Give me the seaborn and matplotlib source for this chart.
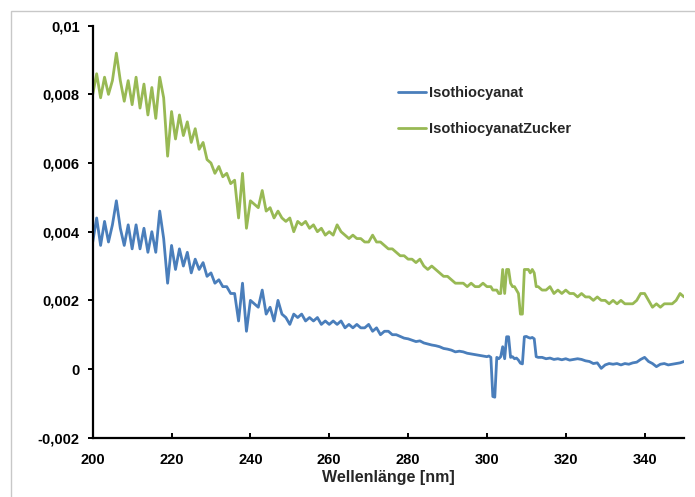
import matplotlib

matplotlib.use("Agg")
import matplotlib.pyplot as plt
from matplotlib.patches import Rectangle
from matplotlib.ticker import FuncFormatter, MultipleLocator
import numpy as np
import pandas as pd
import seaborn as sns

# Sampling grid of the spectrum (finer around the lamp-switch artefact near 300-313 nm)
wavelength = np.concatenate(
    [np.arange(200, 300, 1.0), np.arange(300, 313.5, 0.5), np.arange(314, 351, 1.0)]
)

isothiocyanat = [
    # 200-299
    0.0037, 0.0044, 0.0036, 0.0043, 0.0037, 0.0042, 0.0049, 0.0041, 0.0036, 0.0042,
    0.0035, 0.0042, 0.0035, 0.0041, 0.0034, 0.0040, 0.0034, 0.0046, 0.0038, 0.0025,
    0.0036, 0.0029, 0.0035, 0.0030, 0.0034, 0.0028, 0.0032, 0.0029, 0.0031, 0.0027,
    0.0028, 0.0025, 0.0026, 0.0024, 0.0024, 0.0022, 0.0022, 0.0014, 0.0025, 0.0011,
    0.0020, 0.0019, 0.0018, 0.0023, 0.0016, 0.0018, 0.0014, 0.0020, 0.0016, 0.0015,
    0.0013, 0.0016, 0.0015, 0.0016, 0.0014, 0.0015, 0.0014, 0.0015, 0.0013, 0.0014,
    0.0013, 0.0014, 0.0013, 0.0014, 0.0012, 0.0013, 0.0012, 0.0013, 0.0012, 0.0012,
    0.0013, 0.0011, 0.0012, 0.0010, 0.0011, 0.0011, 0.0010, 0.0010, 0.00095, 0.0009,
    0.00088, 0.00084, 0.0008, 0.00082, 0.00076, 0.00073, 0.0007, 0.00068, 0.00065, 0.0006,
    0.00058, 0.00055, 0.0005, 0.00052, 0.0005, 0.00046, 0.00044, 0.00042, 0.0004, 0.00038,
    # 300-313 in 0.5 steps
    0.00036, 0.00038, 0.00034, -0.0008, -0.00082, 0.00034, 0.00030, 0.00036, 0.00065,
    0.00030, 0.00094, 0.00094, 0.00034, 0.00036, 0.00030, 0.00032, 0.00026, 0.00017,
    0.00015, 0.00094, 0.00095, 0.00092, 0.00090, 0.00092, 0.00088, 0.00036, 0.00034,
    # 314-350
    0.00034, 0.00030, 0.00032, 0.00028, 0.00030, 0.00027, 0.00030, 0.00026, 0.00028, 0.00030,
    0.00028, 0.00024, 0.00022, 0.00016, 0.00018, 0.00002, 0.00012, 0.00016, 0.00014, 0.00016,
    0.00012, 0.00016, 0.00014, 0.00018, 0.00020, 0.00028, 0.00034, 0.00022, 0.00016, 0.00007,
    0.00014, 0.00016, 0.00012, 0.00014, 0.00016, 0.00018, 0.00022,
]

isothiocyanat_zucker = [
    # 200-299
    0.0080, 0.0086, 0.0079, 0.0085, 0.0080, 0.0084, 0.0092, 0.0084, 0.0078, 0.0084,
    0.0077, 0.0085, 0.0076, 0.0083, 0.0074, 0.0082, 0.0073, 0.0085, 0.0079, 0.0062,
    0.0075, 0.0067, 0.0074, 0.0068, 0.0072, 0.0066, 0.0070, 0.0064, 0.0066, 0.0061,
    0.0060, 0.0057, 0.0059, 0.0056, 0.0057, 0.0054, 0.0055, 0.0044, 0.0057, 0.0041,
    0.0049, 0.0048, 0.0047, 0.0052, 0.0046, 0.0047, 0.0044, 0.0046, 0.0044, 0.0043,
    0.0044, 0.0040, 0.0043, 0.0042, 0.0043, 0.0041, 0.0042, 0.0040, 0.0041, 0.0039,
    0.0040, 0.0039, 0.0042, 0.0040, 0.0039, 0.0038, 0.0039, 0.0038, 0.0038, 0.0037,
    0.0037, 0.0039, 0.0037, 0.0037, 0.0036, 0.0035, 0.0035, 0.0034, 0.0033, 0.0033,
    0.0032, 0.0032, 0.0031, 0.0032, 0.0030, 0.0029, 0.0030, 0.0029, 0.0028, 0.0027,
    0.0027, 0.0026, 0.0025, 0.0025, 0.0025, 0.0024, 0.0025, 0.0024, 0.0024, 0.0025,
    # 300-313 in 0.5 steps
    0.0024, 0.0024, 0.0024, 0.0023, 0.0023, 0.0023, 0.0022, 0.0022, 0.0029,
    0.0022, 0.0029, 0.0029, 0.0025, 0.0024, 0.0024, 0.0023, 0.0022, 0.0016,
    0.0016, 0.0029, 0.0029, 0.0029, 0.0028, 0.0029, 0.0028, 0.0024, 0.0024,
    # 314-350
    0.0023, 0.0023, 0.0024, 0.0022, 0.0023, 0.0022, 0.0023, 0.0022, 0.0022, 0.0021,
    0.0022, 0.0021, 0.0021, 0.0020, 0.0021, 0.0020, 0.0020, 0.0019, 0.0020, 0.0019,
    0.0020, 0.0019, 0.0019, 0.0019, 0.0020, 0.0022, 0.0022, 0.0020, 0.0018, 0.0019,
    0.0018, 0.0019, 0.0019, 0.0019, 0.0020, 0.0022, 0.0021,
]

series_names = ["Isothiocyanat", "IsothiocyanatZucker"]
series_colors = ["#4A7EBB", "#98B954"]

assert len(isothiocyanat) == len(wavelength)
assert len(isothiocyanat_zucker) == len(wavelength)

data = pd.concat(
    [
        pd.DataFrame({"nm": wavelength, "value": isothiocyanat, "series": series_names[0]}),
        pd.DataFrame({"nm": wavelength, "value": isothiocyanat_zucker, "series": series_names[1]}),
    ],
    ignore_index=True,
)

sns.set_style("white")
plt.rcParams["font.family"] = ["Liberation Sans", "DejaVu Sans"]
plt.rcParams["font.weight"] = "bold"


def _comma_formatter(value: float, _position: int) -> str:
    value = round(value, 6)
    if abs(value) < 1e-12:
        return "0"
    return f"{value:g}".replace(".", ",")


fig = plt.figure(figsize=(6.95, 4.97), dpi=100)
ax = fig.add_axes([0.1334, 0.1193, 0.8508, 0.829])

sns.lineplot(
    data=data,
    x="nm",
    y="value",
    hue="series",
    hue_order=series_names,
    palette=dict(zip(series_names, series_colors)),
    estimator=None,
    linewidth=2.0,
    ax=ax,
)

ax.set_xlim(200, 350)
ax.set_ylim(-0.002, 0.01)
ax.xaxis.set_major_locator(MultipleLocator(20))
ax.yaxis.set_major_locator(MultipleLocator(0.002))
ax.yaxis.set_major_formatter(FuncFormatter(_comma_formatter))
ax.xaxis.set_major_formatter(FuncFormatter(lambda v, _p: f"{v:.0f}" if v < 349 else ""))

for side in ("top", "right"):
    ax.spines[side].set_visible(False)
for side in ("left", "bottom"):
    ax.spines[side].set_color("black")
    ax.spines[side].set_linewidth(1.6)

ax.tick_params(axis="y", direction="out", length=3.5, width=1.4, pad=6,
               labelsize=10.5, left=True, colors="black")
ax.tick_params(axis="x", direction="in", length=3.5, width=1.4, pad=11,
               labelsize=10.5, bottom=True, colors="black")
for label in ax.get_xticklabels() + ax.get_yticklabels():
    label.set_fontweight("bold")

ax.set_xlabel("Wellenlänge [nm]", fontsize=11.5, fontweight="bold", labelpad=2)
ax.set_ylabel("")

ax.legend(
    loc="upper left",
    bbox_to_anchor=(398 / 695, 1 - 86 / 497),
    bbox_transform=fig.transFigure,
    frameon=False,
    borderpad=0,
    borderaxespad=0,
    handlelength=1.9,
    handletextpad=0.2,
    labelspacing=1.5,
    prop={"size": 10.5, "weight": "bold"},
    title=None,
)

# light chart-area border (cropped on the right and bottom like the source)
fig.add_artist(
    Rectangle((11 / 695, -0.1), 1.2, 1.1 - 11 / 497, transform=fig.transFigure,
              fill=False, edgecolor="#c8c8c8", linewidth=1.0)
)

fig.savefig("out.png", dpi=100)
plt.close(fig)
